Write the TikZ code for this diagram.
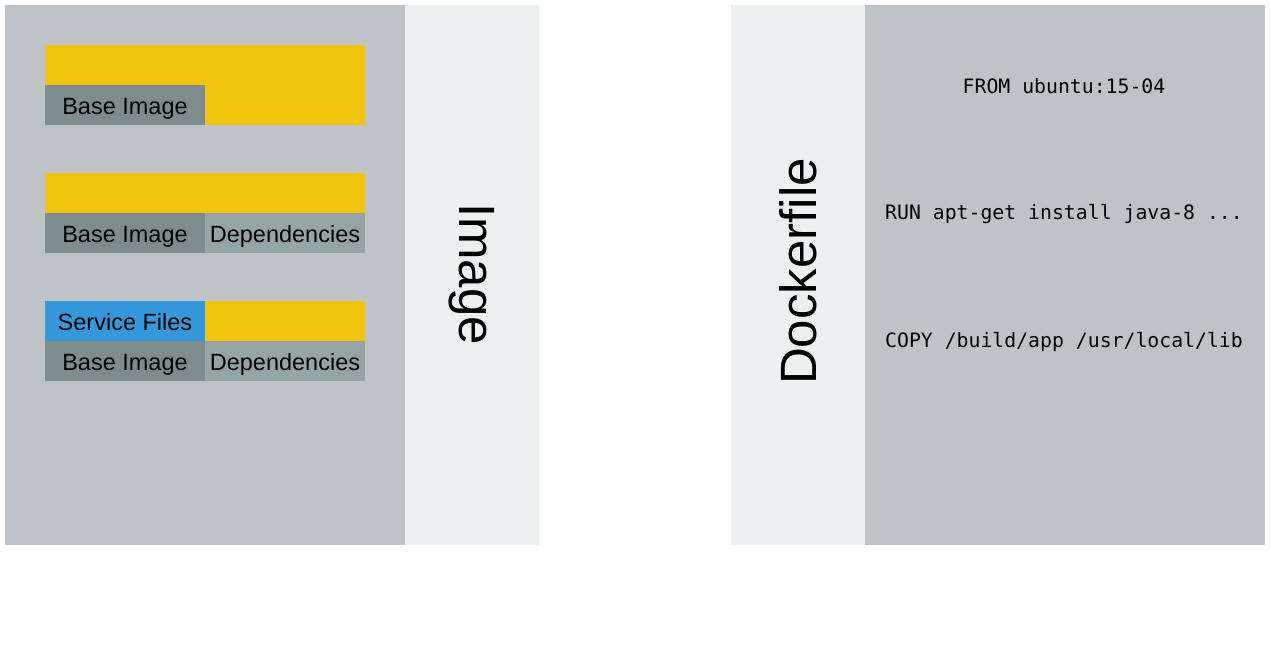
\documentclass[tikz,border=0pt]{standalone}
\usepackage{fontspec}
\setmainfont{Liberation Sans}
\newfontfamily\codefont{DejaVu Sans Mono}
\definecolor{panel}{HTML}{BDC3C7}
\definecolor{strip}{HTML}{ECF0F1}
\definecolor{yel}{HTML}{F1C40F}
\definecolor{blu}{HTML}{3498DB}
\definecolor{dgray}{HTML}{7F8C8D}
\definecolor{lgray}{HTML}{95A5A6}
\tikzset{
  blk/.style={inner sep=0pt, outer sep=0pt, minimum width=160pt, minimum height=40pt, text height=19pt, text depth=0pt, font=\fontsize{23.5}{26}\selectfont, text=black},
  biglabel/.style={font=\fontsize{51}{56}\selectfont, text=black, inner sep=0pt},
  code/.style={font=\codefont\fontsize{19.8}{22}\selectfont, text=black, inner sep=0pt}
}
\begin{document}
\begin{tikzpicture}[x=1pt,y=-1pt]
\useasboundingbox (0,0) rectangle (1270,648);
\fill[white] (0,0) rectangle (1270,648);
% panels
\fill[panel] (5,5) rectangle (405,545);
\fill[strip] (405,5) rectangle (539,545);
\fill[strip] (731,5) rectangle (865,545);
\fill[panel] (865,5) rectangle (1265,545);
% row 1
\node[blk, fill=yel, minimum width=320pt, minimum height=80pt, anchor=north west] (y1) at (45,45) {};
\node[blk, fill=dgray, anchor=north west] (b1) at (45,85) {Base Image};
% row 2
\node[blk, fill=yel, minimum width=320pt, anchor=north west] (y2) at (45,173) {};
\node[blk, fill=dgray, anchor=north west] (b2) at (45,213) {Base Image};
\node[blk, fill=lgray, anchor=north west] (d2) at (205,213) {Dependencies};
% row 3
\node[blk, fill=blu, anchor=north west] (s3) at (45,301) {Service Files};
\node[blk, fill=yel, anchor=north west] (y3) at (205,301) {};
\node[blk, fill=dgray, anchor=north west] (b3) at (45,341) {Base Image};
\node[blk, fill=lgray, anchor=north west] (d3) at (205,341) {Dependencies};
% vertical labels
\node[biglabel, rotate=-90] (img) at (472,274) {Image};
\node[biglabel, rotate=90] (dock) at (798,271.5) {Dockerfile};
% code
\node[code] (from) at (1064,86) {FROM ubuntu:15-04};
\node[code] (run) at (1064,214) {RUN apt-get install java-8 ...};
\node[code] (copy) at (1064,342) {COPY /build/app /usr/local/lib};
\end{tikzpicture}
\end{document}
